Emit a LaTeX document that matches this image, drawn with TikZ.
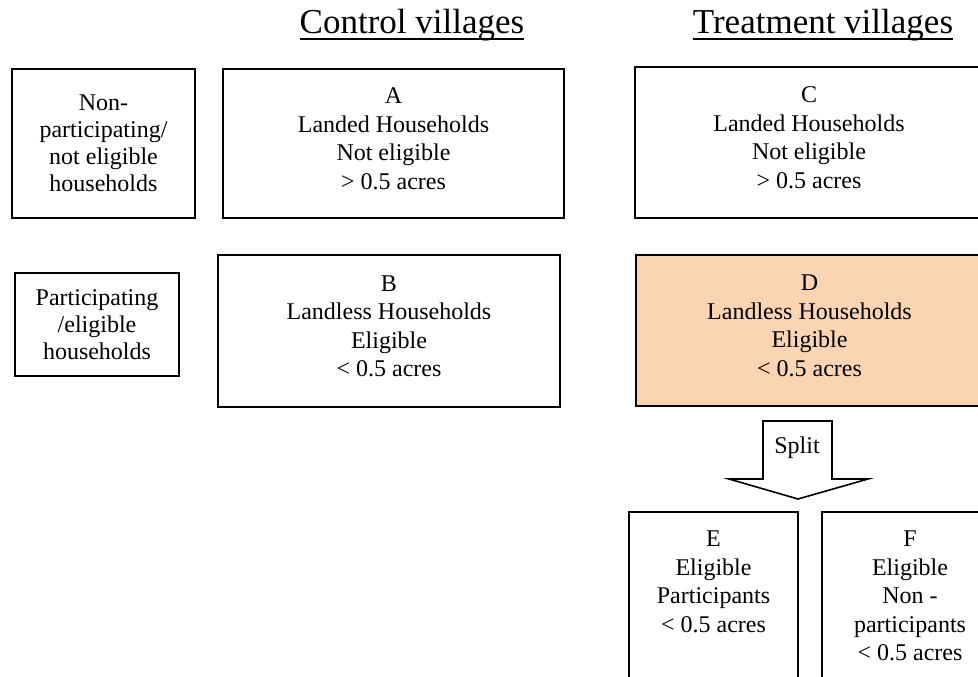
\documentclass[tikz,border=0pt]{standalone}
\usepackage{fontspec}
\setmainfont{Liberation Serif}
\definecolor{peach}{HTML}{FBD4B4}
\begin{document}
\begin{tikzpicture}[x=1pt,y=-1pt,
  box/.style={draw=black, line width=1.6pt, fill=white, align=center, inner sep=0pt, outer sep=0pt, anchor=north west, font=\fontsize{24}{28.5}\selectfont},
  openbox/.style={box, draw=none},
  edge/.style={line width=1.6pt, line join=miter},
  sidebox/.style={box, font=\fontsize{24}{27}\selectfont},
  txt/.style={align=center, inner sep=0pt, font=\fontsize{24}{28.5}\selectfont},
  title/.style={inner sep=0pt, anchor=base, font=\fontsize{35}{40}\selectfont},
  uline/.style={line width=1.4pt},
  arrowshape/.style={draw=black, line width=1.6pt, fill=white, line join=miter}]
\useasboundingbox (0,0) rectangle (978,677);
\clip (0,0) rectangle (978,677);
\fill[white] (0,0) rectangle (978,677);

% titles
\node[title] (ctl) at (412,34) {Control villages};
\draw[uline] ([yshift=-5pt]ctl.base west) -- ([yshift=-5pt]ctl.base east);
\node[title] (trt) at (823,34) {Treatment villages};
\draw[uline] ([yshift=-5pt]trt.base west) -- ([yshift=-5pt]trt.base east);

% left labels
\node[sidebox, minimum width=183pt, minimum height=149pt] (np) at (12,69) {Non-\\participating/\\not eligible\\households};
\node[sidebox, minimum width=164pt, minimum height=103pt] (pp) at (15,273) {Participating\\/eligible\\households};

% main boxes
\node[box, minimum width=341pt, minimum height=149pt] (A) at (223,69) {A\\Landed Households\\Not eligible\\{>} 0.5 acres\\[-19pt]};
\node[openbox, minimum width=348pt, minimum height=151pt] (C) at (635,67) {C\\Landed Households\\Not eligible\\{>} 0.5 acres\\[-19pt]};
\draw[edge] (C.north east) -- (C.north west) -- (C.south west) -- (C.south east);
\node[box, minimum width=342pt, minimum height=152pt] (B) at (218,255) {B\\Landless Households\\Eligible\\{<} 0.5 acres\\[-19pt]};
\node[openbox, fill=peach, minimum width=347pt, minimum height=151pt] (D) at (636,255) {D\\Landless Households\\Eligible\\{<} 0.5 acres\\[-19pt]};
\draw[edge] (D.north east) -- (D.north west) -- (D.south west) -- (D.south east);

% split arrow
\coordinate (s1) at (763,421);
\coordinate (s2) at (832,421);
\coordinate (s3) at (832,479);
\coordinate (s4) at (868,479);
\coordinate (tip) at (798,499);
\coordinate (s6) at (729,479);
\coordinate (s7) at (763,479);
\draw[arrowshape] (s1) -- (s2) -- (s3) -- (s4) -- (tip) -- (s6) -- (s7) -- cycle;
\node[txt] (split) at (797,448) {Split};

% E and F
\node[box, minimum width=169pt, minimum height=200pt] (E) at (629,512) {};
\node[openbox, minimum width=182pt, minimum height=200pt] (F) at (822,512) {};
\draw[edge] (F.south west) -- (F.north west) -- (F.north east);
\node[txt, anchor=north] (Et) at ([yshift=-19pt]E.north) {E\\Eligible\\Participants\\{<} 0.5 acres};
\node[txt, anchor=north] (Ft) at ([yshift=-19pt]E.north -| 910,0) {F\\Eligible\\Non -\\participants\\{<} 0.5 acres};
\end{tikzpicture}
\end{document}
